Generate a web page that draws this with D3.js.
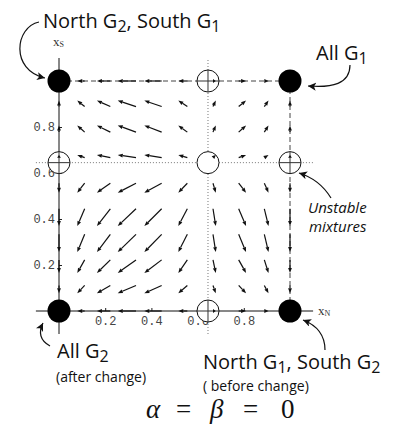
<!DOCTYPE html>
<html>
<head>
<meta charset="utf-8">
<script src="https://cdn.jsdelivr.net/npm/d3@7"></script>
<style>
  body { margin: 0; background: #fff; }
  .note { font-family: "Open Sans", sans-serif; fill: #111; }
  .tick text { font-family: "Liberation Mono", monospace; font-size: 12px; fill: #444; }
</style>
</head>
<body>
<script>
var width = 393,
    height = 429;

// grid of the vector field, tails of the arrows
var gridX = [0, 1/9, 2/9, 3/9, 4/9, 5/9, 6/9, 7/9, 8/9, 1];
var gridY = [0, 1/9, 2/9, 3/9, 4/9, 5/9, 6/9, 7/9, 8/9, 1];
// horizontal component per column, vertical per row
var dxN = [0, -0.032, -0.058, -0.079, -0.075, -0.039, 0.012, 0.032, 0.018, 0];
var dxS = [0, -0.034, -0.057, -0.077, -0.075, -0.041, 0.012, 0.029, 0.026, 0];

var xTicks = [0.2, 0.4, 0.6, 0.8];
var yTicks = [0.2, 0.4, 0.6, 0.8];

var xStar = 0.645, yStar = 0.645;
var stable = [[0, 0], [0, 1], [1, 0], [1, 1]];
var unstable = [[0, yStar], [xStar, 0], [xStar, 1], [1, yStar], [xStar, yStar]];

var svg = d3.select("body").append("svg")
    .attr("width", width)
    .attr("height", height);

var x = d3.scaleLinear().domain([0, 1]).range([59, 290]);
var y = d3.scaleLinear().domain([0, 1]).range([311, 81]);

var defs = svg.append("defs");
defs.append("marker")
    .attr("id", "head")
    .attr("markerUnits", "userSpaceOnUse")
    .attr("markerWidth", 10).attr("markerHeight", 10)
    .attr("refX", 8).attr("refY", 4)
    .attr("orient", "auto")
  .append("path")
    .attr("d", "M0,0L8,4L0,8L2,4Z")
    .attr("fill", "#111");

// dotted lines through the unstable mixture
svg.append("line")
    .attr("x1", x(xStar)).attr("x2", x(xStar))
    .attr("y1", y(-0.1)).attr("y2", y(1.1))
    .attr("stroke", "#777").attr("stroke-dasharray", "1,2");
svg.append("line")
    .attr("x1", x(-0.1)).attr("x2", x(1.1))
    .attr("y1", y(yStar)).attr("y2", y(yStar))
    .attr("stroke", "#777").attr("stroke-dasharray", "1,2");

// dashed edges of the unit square
svg.append("line")
    .attr("x1", x(0)).attr("x2", x(1))
    .attr("y1", y(1)).attr("y2", y(1))
    .attr("stroke", "#444").attr("stroke-dasharray", "5,3");
svg.append("line")
    .attr("x1", x(1)).attr("x2", x(1))
    .attr("y1", y(1)).attr("y2", y(0))
    .attr("stroke", "#444").attr("stroke-dasharray", "5,3");

// axes crossing at the origin
var xAxis = svg.append("g")
    .attr("transform", "translate(0," + y(0) + ")")
    .call(d3.axisBottom(x).tickValues(xTicks).tickSizeInner(-3).tickSizeOuter(0).tickPadding(5));
var yAxis = svg.append("g")
    .attr("transform", "translate(" + x(0) + ",0)")
    .call(d3.axisLeft(y).tickValues(yTicks).tickSizeInner(-3).tickSizeOuter(0).tickPadding(4));
svg.selectAll(".domain").remove();
svg.selectAll(".tick line").attr("stroke", "#222");

svg.append("line")
    .attr("x1", x(-0.1)).attr("x2", x(1.1))
    .attr("y1", y(0)).attr("y2", y(0))
    .attr("stroke", "#111");
svg.append("line")
    .attr("x1", x(0)).attr("x2", x(0))
    .attr("y1", y(-0.1)).attr("y2", y(1.1))
    .attr("stroke", "#111");

// axis names
var xs = svg.append("text")
    .attr("x", 53).attr("y", 46)
    .style("font-family", "Liberation Serif, serif").style("font-size", "13px").attr("fill", "#333");
xs.append("tspan").text("x");
xs.append("tspan").attr("font-size", "8px").attr("dy", 1).text("S");
var xn = svg.append("text")
    .attr("x", 318).attr("y", 315)
    .style("font-family", "Liberation Serif, serif").style("font-size", "13px").attr("fill", "#333");
xn.append("tspan").text("x");
xn.append("tspan").attr("font-size", "8px").attr("dy", 1).text("N");

// unstable rest points
var open = svg.selectAll(".open")
    .data(unstable)
  .enter().append("g")
    .attr("class", "open")
    .attr("transform", function(d) { return "translate(" + x(d[0]) + "," + y(d[1]) + ")"; });
open.append("circle")
    .attr("r", 11)
    .attr("fill", "#fff")
    .attr("stroke", "#111");
open.filter(function(d) { return d[0] !== xStar || d[1] !== yStar; })
  .append("path")
    .attr("d", "M-11,0H11M0,-11V11")
    .attr("stroke", "#333");

// vector field
var arrows = [];
gridX.forEach(function(gx, i) {
  gridY.forEach(function(gy, j) {
    if (dxN[i] === 0 && dxS[j] === 0) return;
    arrows.push({ x0: gx, y0: gy, x1: gx + dxN[i], y1: gy + dxS[j] });
  });
});

var field = svg.append("g");
arrows.forEach(function(a) {
  var sx0 = x(a.x0), sy0 = y(a.y0), sx1 = x(a.x1), sy1 = y(a.y1);
  var ang = Math.atan2(sy1 - sy0, sx1 - sx0);
  var len = Math.sqrt((sx1 - sx0) * (sx1 - sx0) + (sy1 - sy0) * (sy1 - sy0));
  var hl = Math.min(5, len), hw = 1.9;
  var c = Math.cos(ang), s = Math.sin(ang);
  var bx = sx1 - hl * c, by = sy1 - hl * s;
  if (len > hl) {
    field.append("line")
        .attr("x1", sx0).attr("y1", sy0)
        .attr("x2", bx).attr("y2", by)
        .attr("stroke", "#111").attr("stroke-width", 1.2);
  }
  field.append("path")
      .attr("d", "M" + sx1 + "," + sy1 +
                 "L" + (bx - hw * s) + "," + (by + hw * c) +
                 "L" + (bx + hw * s) + "," + (by - hw * c) + "Z")
      .attr("fill", "#111");
});

// stable corners
svg.selectAll(".dot")
    .data(stable)
  .enter().append("circle")
    .attr("class", "dot")
    .attr("cx", function(d) { return x(d[0]); })
    .attr("cy", function(d) { return y(d[1]); })
    .attr("r", 11.5)
    .attr("fill", "#000");

// labels with subscripts
function label(px, py, size, parts) {
  var t = svg.append("text").attr("class", "note")
      .attr("x", px).attr("y", py).style("font-size", size + "px");
  var low = false;
  parts.forEach(function(p) {
    var sub = p.charAt(0) === "_";
    var sp = t.append("tspan").text(sub ? p.slice(1) : p);
    if (sub && !low) { sp.attr("dy", size * 0.2).attr("font-size", size * 0.8); low = true; }
    else if (!sub && low) { sp.attr("dy", -size * 0.2); low = false; }
  });
  return t;
}
label(43, 28, 20, ["North G", "_2", ", South G", "_1"]);
label(316, 60, 20, ["All G", "_1"]);
label(57, 358, 20, ["All G", "_2"]);
label(203, 369, 20, ["North G", "_1", ", South G", "_2"]);
svg.append("text").attr("class", "note")
    .attr("x", 56).attr("y", 382).style("font-size", "14px").text("(after change)");
svg.append("text").attr("class", "note")
    .attr("x", 203).attr("y", 391).style("font-size", "14px").text("( before change)");
svg.append("text").attr("class", "note")
    .attr("x", 308).attr("y", 213).style("font-size", "15px").style("font-style", "italic").text("Unstable");
svg.append("text").attr("class", "note")
    .attr("x", 309).attr("y", 232).style("font-size", "15px").style("font-style", "italic").text("mixtures");

// pointer curves
var curves = [
  "M39,22C15,27 10,70 45,78",
  "M350,65C350,84 332,88 308,86",
  "M331,198C323,185 312,177 299,173",
  "M50,346C41,341 38,333 43,323",
  "M325,350C325,335 316,325 303,320"
];
svg.selectAll(".pointer")
    .data(curves)
  .enter().append("path")
    .attr("class", "pointer")
    .attr("d", function(d) { return d; })
    .attr("fill", "none")
    .attr("stroke", "#111")
    .attr("stroke-width", 1.2)
    .attr("marker-end", "url(#head)");

// parameter caption, set piece by piece like the typeset formula
var capParts = [
  { t: "α", x: 146, it: true },
  { t: "=", x: 176, it: false },
  { t: "β", x: 210, it: true },
  { t: "=", x: 243, it: false },
  { t: "0", x: 281, it: false }
];
svg.selectAll(".cap")
    .data(capParts)
  .enter().append("text")
    .attr("class", "cap")
    .attr("x", function(d) { return d.x; })
    .attr("y", 418)
    .style("font-family", "Liberation Serif, serif")
    .style("font-size", "27px")
    .style("font-style", function(d) { return d.it ? "italic" : "normal"; })
    .attr("fill", "#111")
    .text(function(d) { return d.t; });
</script>
</body>
</html>
